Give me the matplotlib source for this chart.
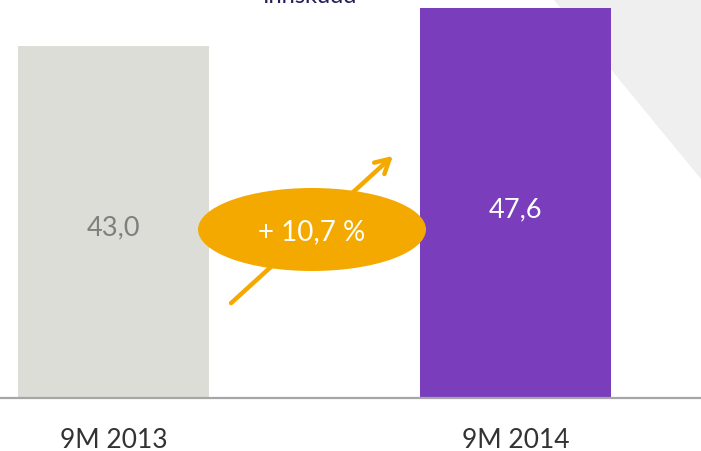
import numpy as np
import matplotlib.pyplot as plt
from matplotlib.patches import Ellipse, Polygon

plt.rcParams['font.family'] = ['Lato', 'DejaVu Sans']

# data
categories = ['9M 2013', '9M 2014']
values = [43.0, 47.6]
value_labels = ['43,0', '47,6']
change_label = '+ 10,7 %'
title = 'Innskudd'

bar_colors = ['#dcddd7', '#7a3dbb']
label_colors = ['#7f7f7f', '#ffffff']
orange = '#f4a900'

W, H = 701, 452
fig = plt.figure(figsize=(W / 100, H / 100), dpi=100)

# background decoration in pixel coords
ax_bg = fig.add_axes([0, 0, 1, 1], zorder=0)
ax_bg.set_xlim(0, W)
ax_bg.set_ylim(H, 0)
ax_bg.axis('off')
ax_bg.add_patch(Polygon([[553, 0], [W, 0], [W, 180]], closed=True,
                        facecolor='#efefef', edgecolor='none'))

# bars
base_px = 399
px_per_unit = (base_px - 47) / 43.0
ax = fig.add_axes([0, (H - base_px) / H, 1, base_px / H], zorder=1)
ax.patch.set_alpha(0)
spacing = 402
ax.set_xlim(-113.5 / spacing, (W - 113.5) / spacing)
ax.set_ylim(0, base_px / px_per_unit)
x = np.arange(len(categories))
ax.bar(x, values, width=191 / spacing, color=bar_colors)
for xi, v, lab, c in zip(x, values, value_labels, label_colors):
    ax.text(xi, v * 0.485, lab, ha='center', va='center', fontsize=19.5, color=c)

for s in ['top', 'left', 'right']:
    ax.spines[s].set_visible(False)
ax.spines['bottom'].set_color('#a6a6a6')
ax.spines['bottom'].set_linewidth(1.6)
ax.set_yticks([])
ax.set_xticks(x)
ax.set_xticklabels(categories, fontsize=19, color='#333333')
ax.tick_params(axis='x', length=0, pad=21)

# overlay: growth arrow and ellipse
ax_top = fig.add_axes([0, 0, 1, 1], zorder=2)
ax_top.set_xlim(0, W)
ax_top.set_ylim(H, 0)
ax_top.axis('off')
ax_top.annotate('', xy=(395, 155), xytext=(229, 306),
                arrowprops=dict(arrowstyle='->,head_length=1.0,head_width=0.55',
                                color=orange, lw=3.2))
ax_top.add_patch(Ellipse((312, 230.5), 228, 83, facecolor=orange, edgecolor='none'))
ax_top.text(312, 232, change_label, ha='center', va='center', fontsize=20, color='white')
ax_top.text(310, 3, title, ha='center', va='baseline', fontsize=17, color='#231f5a')

fig.savefig('out.png', dpi=100)
